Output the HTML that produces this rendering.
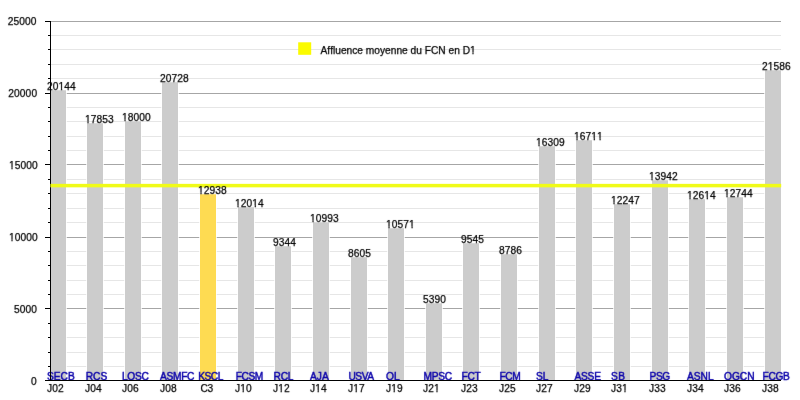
<!DOCTYPE html>
<html><head><meta charset="utf-8"><title>Affluence moyenne du FCN en D1</title>
<style>html,body{margin:0;padding:0;background:#fff}svg{display:block}text{font-family:"Liberation Sans",sans-serif;font-size:10.2px;font-kerning:none;letter-spacing:0.11px;fill:#000;stroke:#000;stroke-width:0.25px}.b{font-kerning:auto;fill:#0a00aa;stroke:#0a00aa;stroke-width:0.45px}</style></head><body>
<svg width="800" height="400" viewBox="0 0 800 400" style="will-change:transform">
<defs><clipPath id="c22"><path clip-rule="evenodd" d="M0 0h800v400h-800zM8.78 239.54H11.37V242.80H8.78zM12.68 239.54H15.18V242.80H12.68z"/></clipPath><clipPath id="c23"><path clip-rule="evenodd" d="M0 0h800v400h-800zM8.78 167.54H11.37V170.80H8.78zM12.68 167.54H15.18V170.80H12.68z"/></clipPath><clipPath id="c26"><path clip-rule="evenodd" d="M0 0h800v400h-800zM469.76 52.33H472.35V55.60H469.76zM473.65 52.33H476.16V55.60H473.65z"/></clipPath><clipPath id="c27"><path clip-rule="evenodd" d="M0 0h800v400h-800zM58.32 88.54H60.91V91.80H58.32zM62.21 88.54H64.72V91.80H62.21z"/></clipPath><clipPath id="c29"><path clip-rule="evenodd" d="M0 0h800v400h-800zM84.78 121.54H87.37V124.80H84.78zM88.67 121.54H91.17V124.80H88.67z"/></clipPath><clipPath id="c31"><path clip-rule="evenodd" d="M0 0h800v400h-800zM121.78 119.54H124.37V122.80H121.78zM125.67 119.54H128.17V122.80H125.67z"/></clipPath><clipPath id="c35"><path clip-rule="evenodd" d="M0 0h800v400h-800zM197.78 192.54H200.37V195.80H197.78zM201.67 192.54H204.17V195.80H201.67z"/></clipPath><clipPath id="c37"><path clip-rule="evenodd" d="M0 0h800v400h-800zM234.78 205.54H237.37V208.80H234.78zM238.67 205.54H241.17V208.80H238.67zM252.09 205.54H254.68V208.80H252.09zM255.98 205.54H258.49V208.80H255.98z"/></clipPath><clipPath id="c38"><path clip-rule="evenodd" d="M0 0h800v400h-800zM239.98 390.53H242.57V393.80H239.98zM243.87 390.53H246.38V393.80H243.87z"/></clipPath><clipPath id="c40"><path clip-rule="evenodd" d="M0 0h800v400h-800zM277.98 390.53H280.57V393.80H277.98zM281.87 390.53H284.38V393.80H281.87z"/></clipPath><clipPath id="c41"><path clip-rule="evenodd" d="M0 0h800v400h-800zM309.78 220.54H312.37V223.80H309.78zM313.67 220.54H316.17V223.80H313.67z"/></clipPath><clipPath id="c42"><path clip-rule="evenodd" d="M0 0h800v400h-800zM314.98 390.53H317.57V393.80H314.98zM318.87 390.53H321.38V393.80H318.87z"/></clipPath><clipPath id="c44"><path clip-rule="evenodd" d="M0 0h800v400h-800zM352.98 390.53H355.57V393.80H352.98zM356.87 390.53H359.38V393.80H356.87z"/></clipPath><clipPath id="c45"><path clip-rule="evenodd" d="M0 0h800v400h-800zM385.78 226.54H388.37V229.80H385.78zM389.67 226.54H392.17V229.80H389.67zM408.87 226.54H411.46V229.80H408.87zM412.76 226.54H415.27V229.80H412.76z"/></clipPath><clipPath id="c46"><path clip-rule="evenodd" d="M0 0h800v400h-800zM390.98 390.53H393.57V393.80H390.98zM394.87 390.53H397.38V393.80H394.87z"/></clipPath><clipPath id="c48"><path clip-rule="evenodd" d="M0 0h800v400h-800zM433.74 390.53H436.33V393.80H433.74zM437.63 390.53H440.14V393.80H437.63z"/></clipPath><clipPath id="c53"><path clip-rule="evenodd" d="M0 0h800v400h-800zM535.78 144.54H538.37V147.80H535.78zM539.67 144.54H542.17V147.80H539.67z"/></clipPath><clipPath id="c55"><path clip-rule="evenodd" d="M0 0h800v400h-800zM573.78 138.54H576.37V141.80H573.78zM577.67 138.54H580.17V141.80H577.67zM591.09 138.54H593.68V141.80H591.09zM594.98 138.54H599.46V141.80H594.98zM600.76 138.54H603.27V141.80H600.76z"/></clipPath><clipPath id="c57"><path clip-rule="evenodd" d="M0 0h800v400h-800zM610.78 202.54H613.37V205.80H610.78zM614.67 202.54H617.17V205.80H614.67z"/></clipPath><clipPath id="c58"><path clip-rule="evenodd" d="M0 0h800v400h-800zM621.74 390.53H624.33V393.80H621.74zM625.63 390.53H628.14V393.80H625.63z"/></clipPath><clipPath id="c59"><path clip-rule="evenodd" d="M0 0h800v400h-800zM648.78 178.54H651.37V181.80H648.78zM652.67 178.54H655.17V181.80H652.67z"/></clipPath><clipPath id="c61"><path clip-rule="evenodd" d="M0 0h800v400h-800zM686.78 197.54H689.37V200.80H686.78zM690.67 197.54H693.17V200.80H690.67zM704.09 197.54H706.68V200.80H704.09zM707.98 197.54H710.49V200.80H707.98z"/></clipPath><clipPath id="c63"><path clip-rule="evenodd" d="M0 0h800v400h-800zM723.78 195.54H726.37V198.80H723.78zM727.67 195.54H730.17V198.80H727.67z"/></clipPath><clipPath id="c65"><path clip-rule="evenodd" d="M0 0h800v400h-800zM767.54 68.54H770.13V71.80H767.54zM771.43 68.54H773.94V71.80H771.43z"/></clipPath></defs>
<filter id="soft" color-interpolation-filters="sRGB" x="0" y="0" width="800" height="400" filterUnits="userSpaceOnUse"><feConvolveMatrix order="3" kernelMatrix="0.00276 0.04704 0.00276 0.04704 0.80077 0.04704 0.00276 0.04704 0.00276" divisor="1" edgeMode="duplicate" preserveAlpha="false"/></filter>
<rect width="800" height="400" fill="#fff"/>
<rect x="51" y="366" width="730" height="1" fill="#e6e6e6"/>
<rect x="51" y="352" width="730" height="1" fill="#e6e6e6"/>
<rect x="51" y="337" width="730" height="1" fill="#e6e6e6"/>
<rect x="51" y="323" width="730" height="1" fill="#e6e6e6"/>
<rect x="51" y="308" width="730" height="1" fill="#a6a6a6"/>
<rect x="51" y="294" width="730" height="1" fill="#e6e6e6"/>
<rect x="51" y="280" width="730" height="1" fill="#e6e6e6"/>
<rect x="51" y="265" width="730" height="1" fill="#e6e6e6"/>
<rect x="51" y="251" width="730" height="1" fill="#e6e6e6"/>
<rect x="51" y="237" width="730" height="1" fill="#a6a6a6"/>
<rect x="51" y="222" width="730" height="1" fill="#e6e6e6"/>
<rect x="51" y="208" width="730" height="1" fill="#e6e6e6"/>
<rect x="51" y="193" width="730" height="1" fill="#e6e6e6"/>
<rect x="51" y="179" width="730" height="1" fill="#e6e6e6"/>
<rect x="51" y="164" width="730" height="1" fill="#a6a6a6"/>
<rect x="51" y="150" width="730" height="1" fill="#e6e6e6"/>
<rect x="51" y="136" width="730" height="1" fill="#e6e6e6"/>
<rect x="51" y="121" width="730" height="1" fill="#e6e6e6"/>
<rect x="51" y="107" width="730" height="1" fill="#e6e6e6"/>
<rect x="51" y="93" width="730" height="1" fill="#a6a6a6"/>
<rect x="51" y="78" width="730" height="1" fill="#e6e6e6"/>
<rect x="51" y="64" width="730" height="1" fill="#e6e6e6"/>
<rect x="51" y="49" width="730" height="1" fill="#e6e6e6"/>
<rect x="51" y="35" width="730" height="1" fill="#e6e6e6"/>
<rect x="51" y="21" width="730" height="1" fill="#a6a6a6"/>
<rect x="50" y="90.25" width="16" height="290.25" fill="#cccccc" stroke="#fff" stroke-width="1.5" paint-order="stroke"/>
<rect x="87" y="123.25" width="16" height="257.25" fill="#cccccc" stroke="#fff" stroke-width="1.5" paint-order="stroke"/>
<rect x="125" y="121.25" width="16" height="259.25" fill="#cccccc" stroke="#fff" stroke-width="1.5" paint-order="stroke"/>
<rect x="162" y="82.25" width="16" height="298.25" fill="#cccccc" stroke="#fff" stroke-width="1.5" paint-order="stroke"/>
<rect x="200" y="194.25" width="16" height="186.25" fill="#fedb52" stroke="#fff" stroke-width="1.5" paint-order="stroke"/>
<rect x="238" y="207.25" width="16" height="173.25" fill="#cccccc" stroke="#fff" stroke-width="1.5" paint-order="stroke"/>
<rect x="275" y="246.25" width="16" height="134.25" fill="#cccccc" stroke="#fff" stroke-width="1.5" paint-order="stroke"/>
<rect x="313" y="222.25" width="16" height="158.25" fill="#cccccc" stroke="#fff" stroke-width="1.5" paint-order="stroke"/>
<rect x="351" y="257.25" width="16" height="123.25" fill="#cccccc" stroke="#fff" stroke-width="1.5" paint-order="stroke"/>
<rect x="388" y="228.25" width="16" height="152.25" fill="#cccccc" stroke="#fff" stroke-width="1.5" paint-order="stroke"/>
<rect x="426" y="303.25" width="16" height="77.25" fill="#cccccc" stroke="#fff" stroke-width="1.5" paint-order="stroke"/>
<rect x="463" y="243.25" width="16" height="137.25" fill="#cccccc" stroke="#fff" stroke-width="1.5" paint-order="stroke"/>
<rect x="501" y="254.25" width="16" height="126.25" fill="#cccccc" stroke="#fff" stroke-width="1.5" paint-order="stroke"/>
<rect x="539" y="146.25" width="16" height="234.25" fill="#cccccc" stroke="#fff" stroke-width="1.5" paint-order="stroke"/>
<rect x="576" y="140.25" width="16" height="240.25" fill="#cccccc" stroke="#fff" stroke-width="1.5" paint-order="stroke"/>
<rect x="614" y="204.25" width="16" height="176.25" fill="#cccccc" stroke="#fff" stroke-width="1.5" paint-order="stroke"/>
<rect x="652" y="180.25" width="16" height="200.25" fill="#cccccc" stroke="#fff" stroke-width="1.5" paint-order="stroke"/>
<rect x="689" y="199.25" width="16" height="181.25" fill="#cccccc" stroke="#fff" stroke-width="1.5" paint-order="stroke"/>
<rect x="727" y="197.25" width="16" height="183.25" fill="#cccccc" stroke="#fff" stroke-width="1.5" paint-order="stroke"/>
<rect x="765" y="70.25" width="16" height="310.25" fill="#cccccc" stroke="#fff" stroke-width="1.5" paint-order="stroke"/>
<g filter="url(#soft)">
<text x="47" y="380.15" class="b" style="letter-spacing:0px">SECB</text>
<text x="85.75" y="380.15" class="b" style="letter-spacing:0px">RCS</text>
<text x="122" y="380.15" class="b" style="letter-spacing:-0.33px">LOSC</text>
<text x="160" y="380.15" class="b" style="letter-spacing:-0.3px">ASMFC</text>
<text x="198.25" y="380.15" class="b" style="letter-spacing:-0.5px">KSCL</text>
<text x="235.75" y="380.15" class="b" style="letter-spacing:-0.45px">FCSM</text>
<text x="273.6" y="380.15" class="b" style="letter-spacing:-0.3px">RCL</text>
<text x="310" y="380.15" class="b" style="letter-spacing:0px">AJA</text>
<text x="348.4" y="380.15" class="b" style="letter-spacing:-0.43px">USVA</text>
<text x="386" y="380.15" class="b" style="letter-spacing:0px">OL</text>
<text x="423.4" y="380.15" class="b" style="letter-spacing:-0.2px">MPSC</text>
<text x="461.6" y="380.15" class="b" style="letter-spacing:-0.3px">FCT</text>
<text x="499.6" y="380.15" class="b" style="letter-spacing:-0.5px">FCM</text>
<text x="536" y="380.15" class="b" style="letter-spacing:0px">SL</text>
<text x="574.4" y="380.15" class="b" style="letter-spacing:-0.2px">ASSE</text>
<text x="611" y="380.15" class="b" style="letter-spacing:0.5px">SB</text>
<text x="649.6" y="380.15" class="b" style="letter-spacing:-0.5px">PSG</text>
<text x="687" y="380.15" class="b" style="letter-spacing:0px">ASNL</text>
<text x="724" y="380.15" class="b" style="letter-spacing:0px">OGCN</text>
<text x="762.5" y="380.15" class="b" style="letter-spacing:-0.33px">FCGB</text>
</g>
<rect x="50" y="21" width="1" height="360" fill="#000"/>
<rect x="45" y="380" width="736" height="1" fill="#000"/>
<rect x="45" y="380" width="6" height="1" fill="#000"/>
<rect x="48" y="366" width="3" height="1" fill="#000"/>
<rect x="48" y="352" width="3" height="1" fill="#000"/>
<rect x="48" y="337" width="3" height="1" fill="#000"/>
<rect x="48" y="323" width="3" height="1" fill="#000"/>
<rect x="45" y="308" width="6" height="1" fill="#000"/>
<rect x="48" y="294" width="3" height="1" fill="#000"/>
<rect x="48" y="280" width="3" height="1" fill="#000"/>
<rect x="48" y="265" width="3" height="1" fill="#000"/>
<rect x="48" y="251" width="3" height="1" fill="#000"/>
<rect x="45" y="237" width="6" height="1" fill="#000"/>
<rect x="48" y="222" width="3" height="1" fill="#000"/>
<rect x="48" y="208" width="3" height="1" fill="#000"/>
<rect x="48" y="193" width="3" height="1" fill="#000"/>
<rect x="48" y="179" width="3" height="1" fill="#000"/>
<rect x="45" y="164" width="6" height="1" fill="#000"/>
<rect x="48" y="150" width="3" height="1" fill="#000"/>
<rect x="48" y="136" width="3" height="1" fill="#000"/>
<rect x="48" y="121" width="3" height="1" fill="#000"/>
<rect x="48" y="107" width="3" height="1" fill="#000"/>
<rect x="45" y="93" width="6" height="1" fill="#000"/>
<rect x="48" y="78" width="3" height="1" fill="#000"/>
<rect x="48" y="64" width="3" height="1" fill="#000"/>
<rect x="48" y="49" width="3" height="1" fill="#000"/>
<rect x="48" y="35" width="3" height="1" fill="#000"/>
<rect x="45" y="21" width="6" height="1" fill="#000"/>
<rect x="50.4" y="183.85" width="730.8" height="3.5" fill="#f0fb18"/>
<rect x="298.2" y="42.3" width="13" height="12.5" fill="#fbfb00"/>
<g filter="url(#soft)">
<text x="36.8" y="384.80" text-anchor="end">0</text>
<text x="37.0" y="312.80" text-anchor="end">5000</text>
<text clip-path="url(#c22)" x="37.9" y="240.80" text-anchor="end">10000</text>
<text clip-path="url(#c23)" x="37.9" y="168.80" text-anchor="end">15000</text>
<text x="37.2" y="96.80" text-anchor="end">20000</text>
<text x="36.6" y="24.80" text-anchor="end">25000</text>
<text clip-path="url(#c26)" x="320.5" y="53.6" style="font-size:10.2px;letter-spacing:0">Affluence moyenne du FCN en D1</text>
<text clip-path="url(#c27)" x="47" y="89.80">20144</text>
<text x="47" y="391.8">J02</text>
<text clip-path="url(#c29)" x="85" y="122.80">17853</text>
<text x="85" y="391.8">J04</text>
<text clip-path="url(#c31)" x="122" y="120.80">18000</text>
<text x="122" y="391.8">J06</text>
<text x="160" y="81.80">20728</text>
<text x="160" y="391.8">J08</text>
<text clip-path="url(#c35)" x="198" y="193.80">12938</text>
<text x="200.6" y="391.8" style="letter-spacing:-0.5px">C3</text>
<text clip-path="url(#c37)" x="235" y="206.80">12014</text>
<text clip-path="url(#c38)" x="235" y="391.8">J10</text>
<text x="273" y="245.80">9344</text>
<text clip-path="url(#c40)" x="273" y="391.8">J12</text>
<text clip-path="url(#c41)" x="310" y="221.80">10993</text>
<text clip-path="url(#c42)" x="310" y="391.8">J14</text>
<text x="348" y="256.80">8605</text>
<text clip-path="url(#c44)" x="348" y="391.8">J17</text>
<text clip-path="url(#c45)" x="386" y="227.80">10571</text>
<text clip-path="url(#c46)" x="386" y="391.8">J19</text>
<text x="423" y="302.80">5390</text>
<text clip-path="url(#c48)" x="423" y="391.8">J21</text>
<text x="461" y="242.80">9545</text>
<text x="461" y="391.8">J23</text>
<text x="499" y="253.80">8786</text>
<text x="499" y="391.8">J25</text>
<text clip-path="url(#c53)" x="536" y="145.80">16309</text>
<text x="536" y="391.8">J27</text>
<text clip-path="url(#c55)" x="574" y="139.80">16711</text>
<text x="574" y="391.8">J29</text>
<text clip-path="url(#c57)" x="611" y="203.80">12247</text>
<text clip-path="url(#c58)" x="611" y="391.8">J31</text>
<text clip-path="url(#c59)" x="649" y="179.80">13942</text>
<text x="649" y="391.8">J33</text>
<text clip-path="url(#c61)" x="687" y="198.80">12614</text>
<text x="687" y="391.8">J34</text>
<text clip-path="url(#c63)" x="724" y="196.80">12744</text>
<text x="724" y="391.8">J36</text>
<text clip-path="url(#c65)" x="762" y="69.80">21586</text>
<text x="762" y="391.8">J38</text>
</g>
</svg></body></html>
